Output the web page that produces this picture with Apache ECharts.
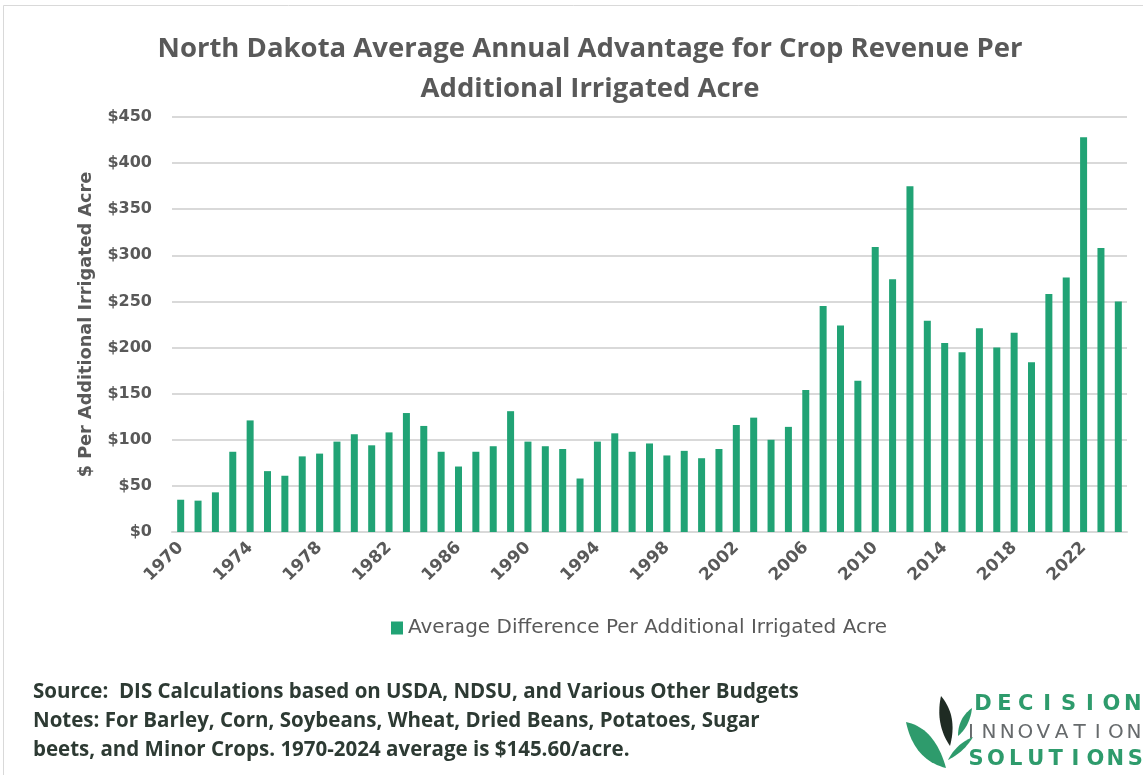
<!DOCTYPE html>
<html>
<head>
<meta charset="utf-8">
<script src="https://cdn.jsdelivr.net/npm/echarts@6/dist/echarts.min.js"></script>
<style>
html,body{margin:0;padding:0;background:#fff;}
#chart{width:1143px;height:775px;}
</style>
</head>
<body>
<div id="chart"></div>
<script>
const years = [];
for (let y = 1970; y <= 2024; y++) years.push(String(y));
const values = [
  35, 34, 43, 87, 121, 66, 61, 82, 85, 98,
  106, 94, 108, 129, 115, 87, 71, 87, 93, 131,
  98, 93, 90, 58, 98, 107, 87, 96, 83, 88,
  80, 90, 116, 124, 100, 114, 154, 245, 224, 164,
  309, 274, 375, 229, 205, 195, 221, 200, 216, 184,
  258, 276, 428, 308, 250
];
const seriesName = 'Average Difference Per Additional Irrigated Acre';
const titleLines = 'North Dakota Average Annual Advantage for Crop Revenue Per\nAdditional Irrigated Acre';
const yAxisName = '$ Per Additional Irrigated Acre';
const noteLines = [
  'Source:  DIS Calculations based on USDA, NDSU, and Various Other Budgets',
  'Notes: For Barley, Corn, Soybeans, Wheat, Dried Beans, Potatoes, Sugar',
  'beets, and Minor Crops. 1970-2024 average is $145.60/acre.'
];

const GREEN = '#21a375';
const GRAY = '#595959';
const chart = echarts.init(document.getElementById('chart'), null, {renderer: 'canvas'});

function spaced(word, x, y, step, style) {
  return word.split('').map((ch, i) => ({
    type: 'text', x: x + i * step, y: y,
    style: Object.assign({text: ch, align: 'center', verticalAlign: 'middle'}, style)
  }));
}
// leaf shape: two quadratic curves between p0 and p1 with control points c1, c2
function leaf(p0, p1, c1, c2, fill) {
  const pts = [];
  const q = (a, c, b, t) => [(1-t)*(1-t)*a[0] + 2*(1-t)*t*c[0] + t*t*b[0], (1-t)*(1-t)*a[1] + 2*(1-t)*t*c[1] + t*t*b[1]];
  for (let i = 0; i <= 20; i++) pts.push(q(p0, c1, p1, i / 20));
  for (let i = 1; i < 20; i++) pts.push(q(p1, c2, p0, i / 20));
  return {type: 'polygon', shape: {points: pts}, style: {fill: fill}, silent: true};
}

const logo = [].concat(
  spaced('DECISION', 983, 705, 21.4, {font: 'bold 21px "DejaVu Sans"', fill: '#2e9b6c'}),
  spaced('INNOVATION', 971, 733, 18.1, {font: '20px "DejaVu Sans"', fill: '#666a6c'}),
  spaced('SOLUTIONS', 976, 760, 19.9, {font: 'bold 21px "DejaVu Sans"', fill: '#2e9b6c'})
);
logo.push(
  leaf([941, 696], [950, 746], [958, 716], [935, 724], '#1f2b23'),
  leaf([906, 722], [946, 768], [935, 728], [914, 760], '#2e9b6c'),
  leaf([972, 708], [958, 736], [970, 726], [958, 718], '#2e9b6c'),
  leaf([973, 737], [948, 760], [964, 752], [956, 744], '#2e9b6c')
);

const option = {
  backgroundColor: '#ffffff',
  animation: false,
  title: {
    text: titleLines,
    left: 585, top: 24, textAlign: 'center',
    textStyle: {fontFamily: '"Open Sans"', fontWeight: 'bold', fontSize: 27.5, color: GRAY, lineHeight: 40}
  },
  legend: {
    data: [seriesName],
    left: 386, top: 613,
    icon: 'rect', itemWidth: 12, itemHeight: 13, itemGap: 7,
    textStyle: {fontFamily: '"DejaVu Sans"', fontSize: 20, color: GRAY}
  },
  grid: {left: 172, right: 16, top: 117, bottom: 243},
  xAxis: {
    type: 'category',
    data: years,
    axisLine: {lineStyle: {color: '#d9d9d9', width: 2}},
    axisTick: {show: false},
    axisLabel: {
      interval: 3, rotate: 45, margin: 13,
      fontFamily: '"DejaVu Sans"', fontWeight: 'bold', fontSize: 17, color: GRAY
    }
  },
  yAxis: {
    type: 'value', min: 0, max: 450, interval: 50,
    name: yAxisName, nameLocation: 'middle', nameGap: 77, nameRotate: 90,
    nameTextStyle: {fontFamily: '"DejaVu Sans"', fontWeight: 'bold', fontSize: 17.7, color: GRAY},
    axisLabel: {
      margin: 20, formatter: v => '$' + v,
      fontFamily: '"DejaVu Sans"', fontWeight: 'bold', fontSize: 16, color: GRAY
    },
    splitLine: {lineStyle: {color: '#d9d9d9', width: 2}}
  },
  series: [{
    name: seriesName,
    type: 'bar',
    data: values,
    barWidth: 7,
    itemStyle: {color: GREEN}
  }],
  graphic: [
    {type: 'rect', shape: {x: 3.5, y: 5.5, width: 1200, height: 800}, style: {fill: 'none', stroke: '#d9d9d9', lineWidth: 1}, silent: true},
    {type: 'text', x: 33, y: 678, style: {text: noteLines.join('\n'), font: 'bold 20.5px "Open Sans"', fill: '#2d3a33', lineHeight: 29}}
  ].concat(logo)
};
chart.setOption(option);
</script>
</body>
</html>
